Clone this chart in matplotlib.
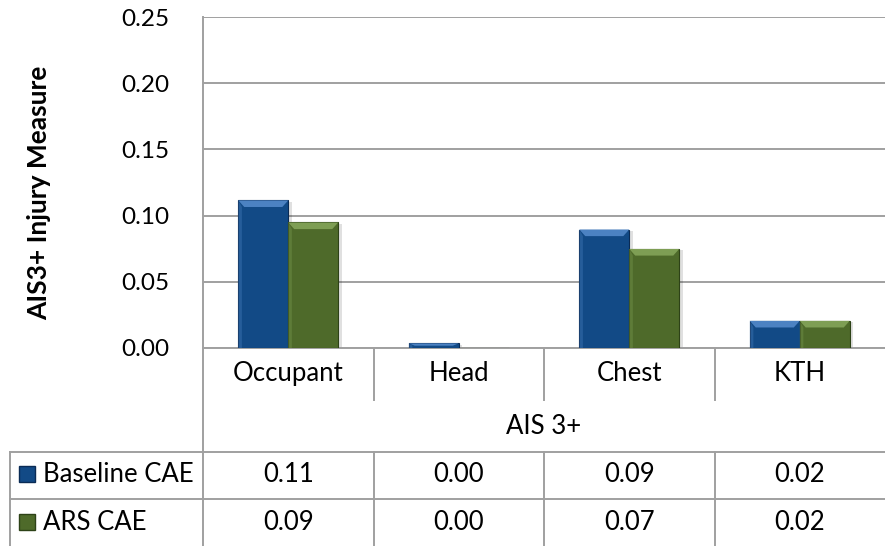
import matplotlib
matplotlib.use("Agg")
import matplotlib.pyplot as plt
import matplotlib.transforms as mtransforms
from matplotlib.patches import Polygon, Rectangle
import numpy as np

categories = ["Occupant", "Head", "Chest", "KTH"]
group_label = "AIS 3+"
series_names = ["Baseline CAE", "ARS CAE"]
baseline = [0.1115, 0.0035, 0.0895, 0.0205]
ars = [0.0948, 0.0, 0.0748, 0.0205]
yticks = [0.00, 0.05, 0.10, 0.15, 0.20, 0.25]

plt.rcParams['font.family'] = ['Lato', 'DejaVu Sans']

main_cols = ["#124A86", "#4E6A2A"]
top_cols = ["#4C82C2", "#7E9E54"]
edge_cols = ["#0A2B55", "#2D4217"]
grid_col = "#A0A0A0"

fig = plt.figure(figsize=(8.85, 5.46), dpi=100)
ax = fig.add_axes([203 / 885, 198 / 546, 682 / 885, 331 / 546])

x = np.arange(len(categories)) + 0.5
w = 0.293
bars = []
for i, vals in enumerate([baseline, ars]):
    b = ax.bar(x + (i - 0.5) * w, vals, w, color=main_cols[i],
               edgecolor=edge_cols[i], linewidth=0.8, zorder=3)
    bars.append(b)

# bevel and soft shadow from the bar patches
for i, b in enumerate(bars):
    for p in b.patches:
        bx, bw, bh = p.get_x(), p.get_width(), p.get_height()
        if bh <= 0:
            continue
        ax.add_patch(Rectangle((bx + 0.02, -0.001), bw, bh, color="#000000",
                               alpha=0.12, zorder=2, lw=0))
        dx = 0.035
        dy = min(0.005, bh / 2)
        ax.add_patch(Polygon([(bx, bh), (bx + bw, bh), (bx + bw - dx, bh - dy),
                              (bx + dx, bh - dy)], closed=True,
                             facecolor=top_cols[i], edgecolor="none", zorder=4))
        ax.add_patch(Polygon([(bx, bh), (bx + dx * 0.6, bh - dy), (bx + dx * 0.6, 0),
                              (bx, 0)], closed=True, facecolor=top_cols[i],
                             alpha=0.35, edgecolor="none", zorder=4))

ax.set_xlim(0, 4)
ax.set_ylim(0, 0.25)
ax.set_yticks(yticks)
ax.set_yticklabels([f"{v:.2f}" for v in yticks], fontsize=17.5)
ax.set_xticks([])
ax.tick_params(axis='y', length=0, pad=24)
ax.grid(axis='y', color=grid_col, linewidth=1.4, zorder=0)
ax.set_axisbelow(True)
for s in ["top", "right"]:
    ax.spines[s].set_visible(False)
for s in ["left", "bottom"]:
    ax.spines[s].set_color(grid_col)
    ax.spines[s].set_linewidth(1.4)

ax.set_ylabel("AIS3+ Injury Measure", fontsize=19, fontweight='bold')
ax.yaxis.set_label_coords(-0.222, 0.47)

# data table below the plot
tr = mtransforms.blended_transform_factory(ax.transData, ax.transAxes)
lk = dict(color=grid_col, linewidth=1.4, transform=tr, clip_on=False)
y_cat, y_catline, y_grp = -0.0785, -0.157, -0.236
y_h1, y_r1, y_h2, y_r2, y_bot = -0.314, -0.382, -0.456, -0.526, -0.6
x_left = -1.132

ax.plot([0, 0], [0, y_bot], **lk)
for k in range(1, len(categories)):
    ax.plot([k, k], [0, y_catline], **lk)
    ax.plot([k, k], [y_h1, y_bot], **lk)
ax.plot([x_left, 4], [y_h1, y_h1], **lk)
ax.plot([x_left, 4], [y_h2, y_h2], **lk)
ax.plot([x_left, x_left], [y_h1, y_bot], **lk)

for xi, c in zip(x, categories):
    ax.text(xi, y_cat, c, transform=tr, ha='center', va='center', fontsize=18.5)
ax.text(len(categories) / 2, y_grp, group_label, transform=tr, ha='center',
        va='center', fontsize=18.5)

for row_y, vals, name, mc, ec in zip([y_r1, y_r2], [baseline, ars], series_names,
                                     main_cols, edge_cols):
    for xi, v in zip(x, vals):
        ax.text(xi, row_y, f"{v:.2f}", transform=tr, ha='center', va='center',
                fontsize=18.5)
    ax.plot([-1.032], [row_y], marker='s', markersize=12, color=mc,
            markeredgecolor=ec, transform=tr, clip_on=False)
    ax.text(-0.938, row_y, name, transform=tr, ha='left', va='center',
            fontsize=18.5)

fig.savefig("out.png", dpi=100)
